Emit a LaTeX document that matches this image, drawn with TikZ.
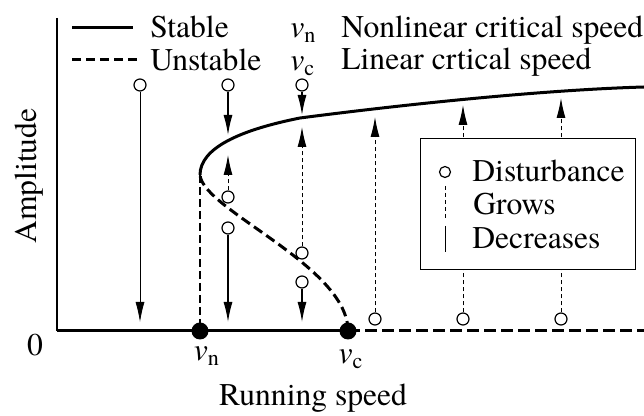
\documentclass[tikz,border=0pt]{standalone}
\usepackage{fontspec}
\setmainfont{texgyretermes}[Extension=.otf,UprightFont=*-regular,ItalicFont=*-italic,BoldFont=*-bold]
\usetikzlibrary{arrows.meta}
\newcommand{\spd}[1]{\textit{v}\textsubscript{#1}}

\begin{document}
\begin{tikzpicture}[x=0.5pt,y=-0.5pt,
    font=\fontsize{15.8}{18}\selectfont,
    branch/.style={line width=1.5pt},
    dist/.style={circle,draw,fill=white,inner sep=0pt,minimum size=6pt,line width=0.6pt},
    crit/.style={circle,fill,inner sep=0pt,minimum size=8.5pt},
    decarrow/.style={line width=0.65pt,-{Latex[length=10pt,width=4.5pt]}},
    growarrow/.style={line width=0.5pt,dash pattern=on 2pt off 1.5pt,-{Latex[length=10pt,width=4.5pt]}},
    lbl/.style={anchor=base west,inner sep=0pt}]

    \useasboundingbox (0,0) rectangle (644,416);

    % axes
    \coordinate (O) at (57,331);
    \coordinate (ytop) at (57,18);
    \coordinate (xend) at (644,331);
    \coordinate (vnpt) at (200,331);
    \coordinate (vcpt) at (348,331);
    \draw[line width=0.65pt] (ytop) -- (O);
    \draw[branch] (O) -- (vcpt);
    \draw[branch,dash pattern=on 6pt off 2.5pt] (vcpt) -- (xend);

    % response curve
    \coordinate (turn) at (200,175);
    \draw[branch] (turn) .. controls (200,148) and (240,130) .. (300,118)
        .. controls (400,105) and (540,90) .. (644,87);
    \draw[branch,dash pattern=on 5pt off 2.5pt] (vcpt) .. controls (348,266) and (203,210) .. (turn);
    \draw[line width=0.65pt,dash pattern=on 4pt off 2pt] (turn) -- (vnpt);

    \node[crit] (vn) at (vnpt) {};
    \node[crit] (vc) at (vcpt) {};

    % disturbances that decay
    \node[dist] (d1) at (140,85) {};
    \node[dist] (d2) at (228,85) {};
    \node[dist] (d3) at (302,85) {};
    \node[dist] (d4) at (228,228) {};
    \node[dist] (d5) at (302,282) {};
    \coordinate (t1) at (140,322);
    \coordinate (t2) at (228,135);
    \coordinate (t3) at (302,115);
    \coordinate (t4) at (228,322);
    \coordinate (t5) at (302,322);
    \draw[decarrow,line width=0.4pt] (d1) -- (t1);
    \foreach \i in {2,...,5}
        \draw[decarrow] (d\i) -- (t\i);

    % disturbances that grow
    \node[dist] (g1) at (228,197) {};
    \node[dist] (g2) at (302,253) {};
    \node[dist] (g3) at (375,319) {};
    \node[dist] (g4) at (463,319) {};
    \node[dist] (g5) at (561,319) {};
    \coordinate (s1) at (228,155);
    \coordinate (s2) at (302,127);
    \coordinate (s3) at (375,117);
    \coordinate (s4) at (463,105);
    \coordinate (s5) at (561,98);
    \foreach \i in {1,...,5}
        \draw[growarrow] (g\i) -- (s\i);

    % key box
    \node[draw,fill=white,line width=0.5pt,anchor=north west,
        minimum width=107.5pt,minimum height=65.5pt,inner sep=0pt] (key) at (420,138) {};
    \node[dist,minimum size=5.5pt] (kd) at (445,172) {};
    \node[lbl] (kdtext) at (472,182) {Disturbance};
    \coordinate (kg1) at (445,186);
    \coordinate (kg2) at (445,218);
    \coordinate (kc1) at (445,226);
    \coordinate (kc2) at (445,252);
    \draw[line width=0.5pt,dash pattern=on 2pt off 1.5pt] (kg1) -- (kg2);
    \draw[line width=0.4pt] (kc1) -- (kc2);
    \node[lbl] (kgtext) at (473,215) {Grows};
    \node[lbl] (kctext) at (472,249) {Decreases};

    % line key and speed names
    \coordinate (ls1) at (72,28);
    \coordinate (ls2) at (133,28);
    \coordinate (lu1) at (72,60);
    \coordinate (lu2) at (140,60);
    \draw[branch] (ls1) -- (ls2);
    \draw[branch,dash pattern=on 4.5pt off 2.5pt] (lu1) -- (lu2);
    \node[lbl] (stab) at (150,38) {Stable};
    \node[lbl] (unst) at (150,71) {Unstable};
    \node[lbl] (vnkey) at (290,38) {\spd{n}};
    \node[lbl] (vckey) at (290,71) {\spd{c}};
    \node[lbl] (vntext) at (341,38) {Nonlinear critical speed};
    \node[lbl] (vctext) at (341,70) {Linear crtical speed};

    % axis labels
    \node[anchor=base] (zero) at (35,356) {0};
    \node[anchor=base] (vnlab) at (207,361) {\spd{n}};
    \node[anchor=base] (vclab) at (351,364) {\spd{c}};
    \node[anchor=base] (xlab) at (313,406) {Running speed};
    \node[anchor=base,rotate=90] (ylab) at (36,176) {Amplitude};
\end{tikzpicture}
\end{document}
